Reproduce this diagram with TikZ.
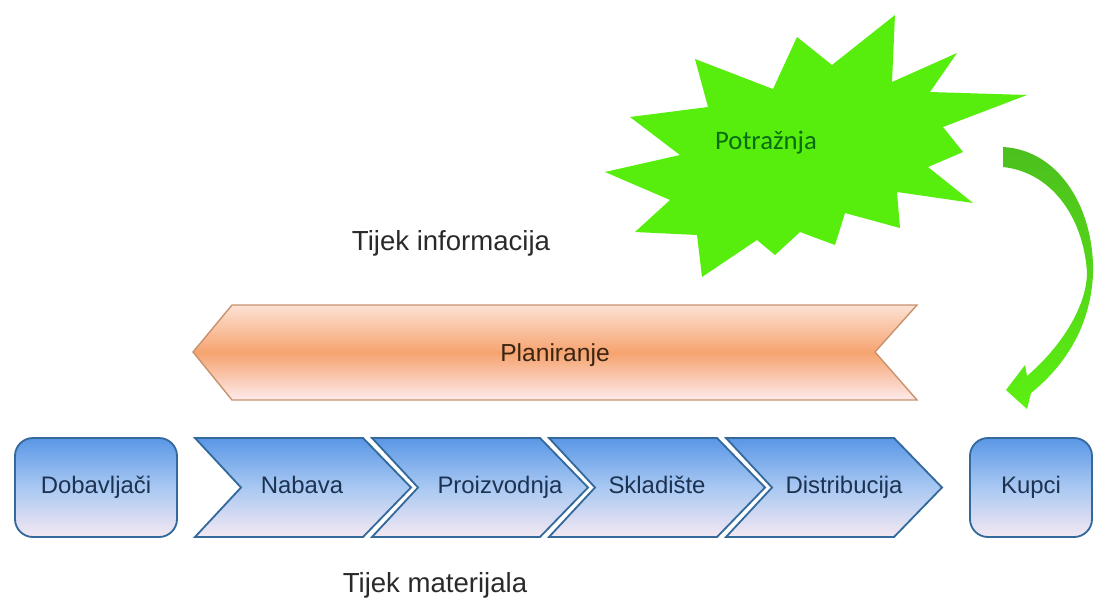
\documentclass[tikz,border=0pt]{standalone}
\usepackage{fontspec}
\setmainfont{Liberation Sans}
\newfontfamily\demandfont{Carlito}
\usetikzlibrary{positioning}

\definecolor{boxtop}{HTML}{5A97E6}
\definecolor{boxmid}{HTML}{A9C8F2}
\definecolor{boxbottom}{HTML}{F4E8F2}
\definecolor{boxline}{HTML}{34699C}
\definecolor{boxtext}{HTML}{1C3250}
\definecolor{plantop}{HTML}{FCE2D4}
\definecolor{planmid}{HTML}{F6A36F}
\definecolor{planbottom}{HTML}{FDEAEC}
\definecolor{planline}{HTML}{C7926C}
\definecolor{plantext}{HTML}{3A2512}
\definecolor{burstgreen}{HTML}{57EE0E}
\definecolor{demandtext}{HTML}{0B6B12}
\definecolor{arrowtop}{HTML}{4CBF1E}
\definecolor{arrowbottom}{HTML}{5CF012}
\definecolor{headtext}{HTML}{2A2A2A}

\begin{document}
\begin{tikzpicture}[x=0.025cm,y=-0.025cm,
    boxlabel/.style={font=\fontsize{17}{20}\selectfont,text=boxtext,
      text height=0.85em,text depth=0pt},
    headlabel/.style={font=\fontsize{19.6}{23}\selectfont,text=headtext},
    halo/.style={preaction={draw=white,line width=4.5pt}},
    endbox/.style={halo,rounded corners=0.45cm,draw=boxline,line width=1.3pt,
      top color=boxtop,bottom color=boxbottom,middle color=boxmid,
      minimum height=2.475cm,inner sep=0pt,boxlabel},
    chevron/.style={halo,draw=boxline,line width=1.3pt,
      top color=boxtop,bottom color=boxbottom,middle color=boxmid},
    planarrow/.style={draw=planline,line width=1pt,
      top color=plantop,bottom color=planbottom,middle color=planmid}]
    \useasboundingbox (0,0) rectangle (1094,600);

    % end points of the chain
    \node[endbox,minimum width=4.05cm] (dobavljaci) at (96,487.5) {Dobavljači};
    \node[endbox,minimum width=3.05cm] (kupci) at (1031,487.5) {Kupci};

    % material flow
    \foreach \name/\txt/\tx [count=\i from 0] in
      {nabava/Nabava/302, proizvodnja/Proizvodnja/500,
       skladiste/Skladište/657, distribucija/Distribucija/844}
    {
      \pgfmathsetmacro\lx{195+177*\i}
      \shade[chevron] (\lx,438) -- ++(168,0) -- ++(48,49.5) -- ++(-48,49.5)
        -- ++(-168,0) -- ++(46,-49.5) -- cycle;
      \node[boxlabel,inner sep=0pt] (\name) at (\tx,487.5) {\txt};
    }

    % information flow
    \shade[planarrow] (193,352) -- (232,305) -- (917,305) -- (875,352)
      -- (917,400) -- (232,400) -- cycle;
    \node[font=\fontsize{17.5}{20}\selectfont,text=plantext] (planiranje) at (555,355) {Planiranje};

    % demand burst
    \fill[burstgreen] (605,172) -- (680,155) -- (630,117) -- (708,107) -- (695,59)
      -- (773,89) -- (797,37) -- (832,65) -- (895,15) -- (892,82) -- (957,53)
      -- (930,92) -- (1027,95) -- (943,127) -- (963,152) -- (928,167) -- (973,203)
      -- (897,192) -- (900,228) -- (845,213) -- (835,245) -- (800,232) -- (775,255)
      -- (757,240) -- (702,277) -- (697,235) -- (635,232) -- (670,200) -- cycle;
    \node[font=\demandfont\fontsize{19}{22}\selectfont,text=demandtext] (potraznja) at (766,143) {Potražnja};

    % curved block arrow from demand to customers
    \coordinate (tail) at (1003,157);
    \coordinate (head) at (1006,390);
    \shade[top color=arrowtop,bottom color=arrowbottom]
      ([yshift=0.25cm]tail) .. controls (1060,150) and (1095,210) .. (1093,275)
      .. controls (1090,330) and (1062,368) .. (1031,393)
      -- (1027,409) -- (head) -- (1025,365) -- (1027,376)
      .. controls (1063,345) and (1087,305) .. (1087,272)
      .. controls (1083,215) and (1050,172) .. ([yshift=-0.25cm]tail) -- cycle;

    \node[headlabel] (infoflow) at (451,243) {Tijek informacija};
    \node[headlabel] (matflow) at (435,585) {Tijek materijala};
\end{tikzpicture}
\end{document}
